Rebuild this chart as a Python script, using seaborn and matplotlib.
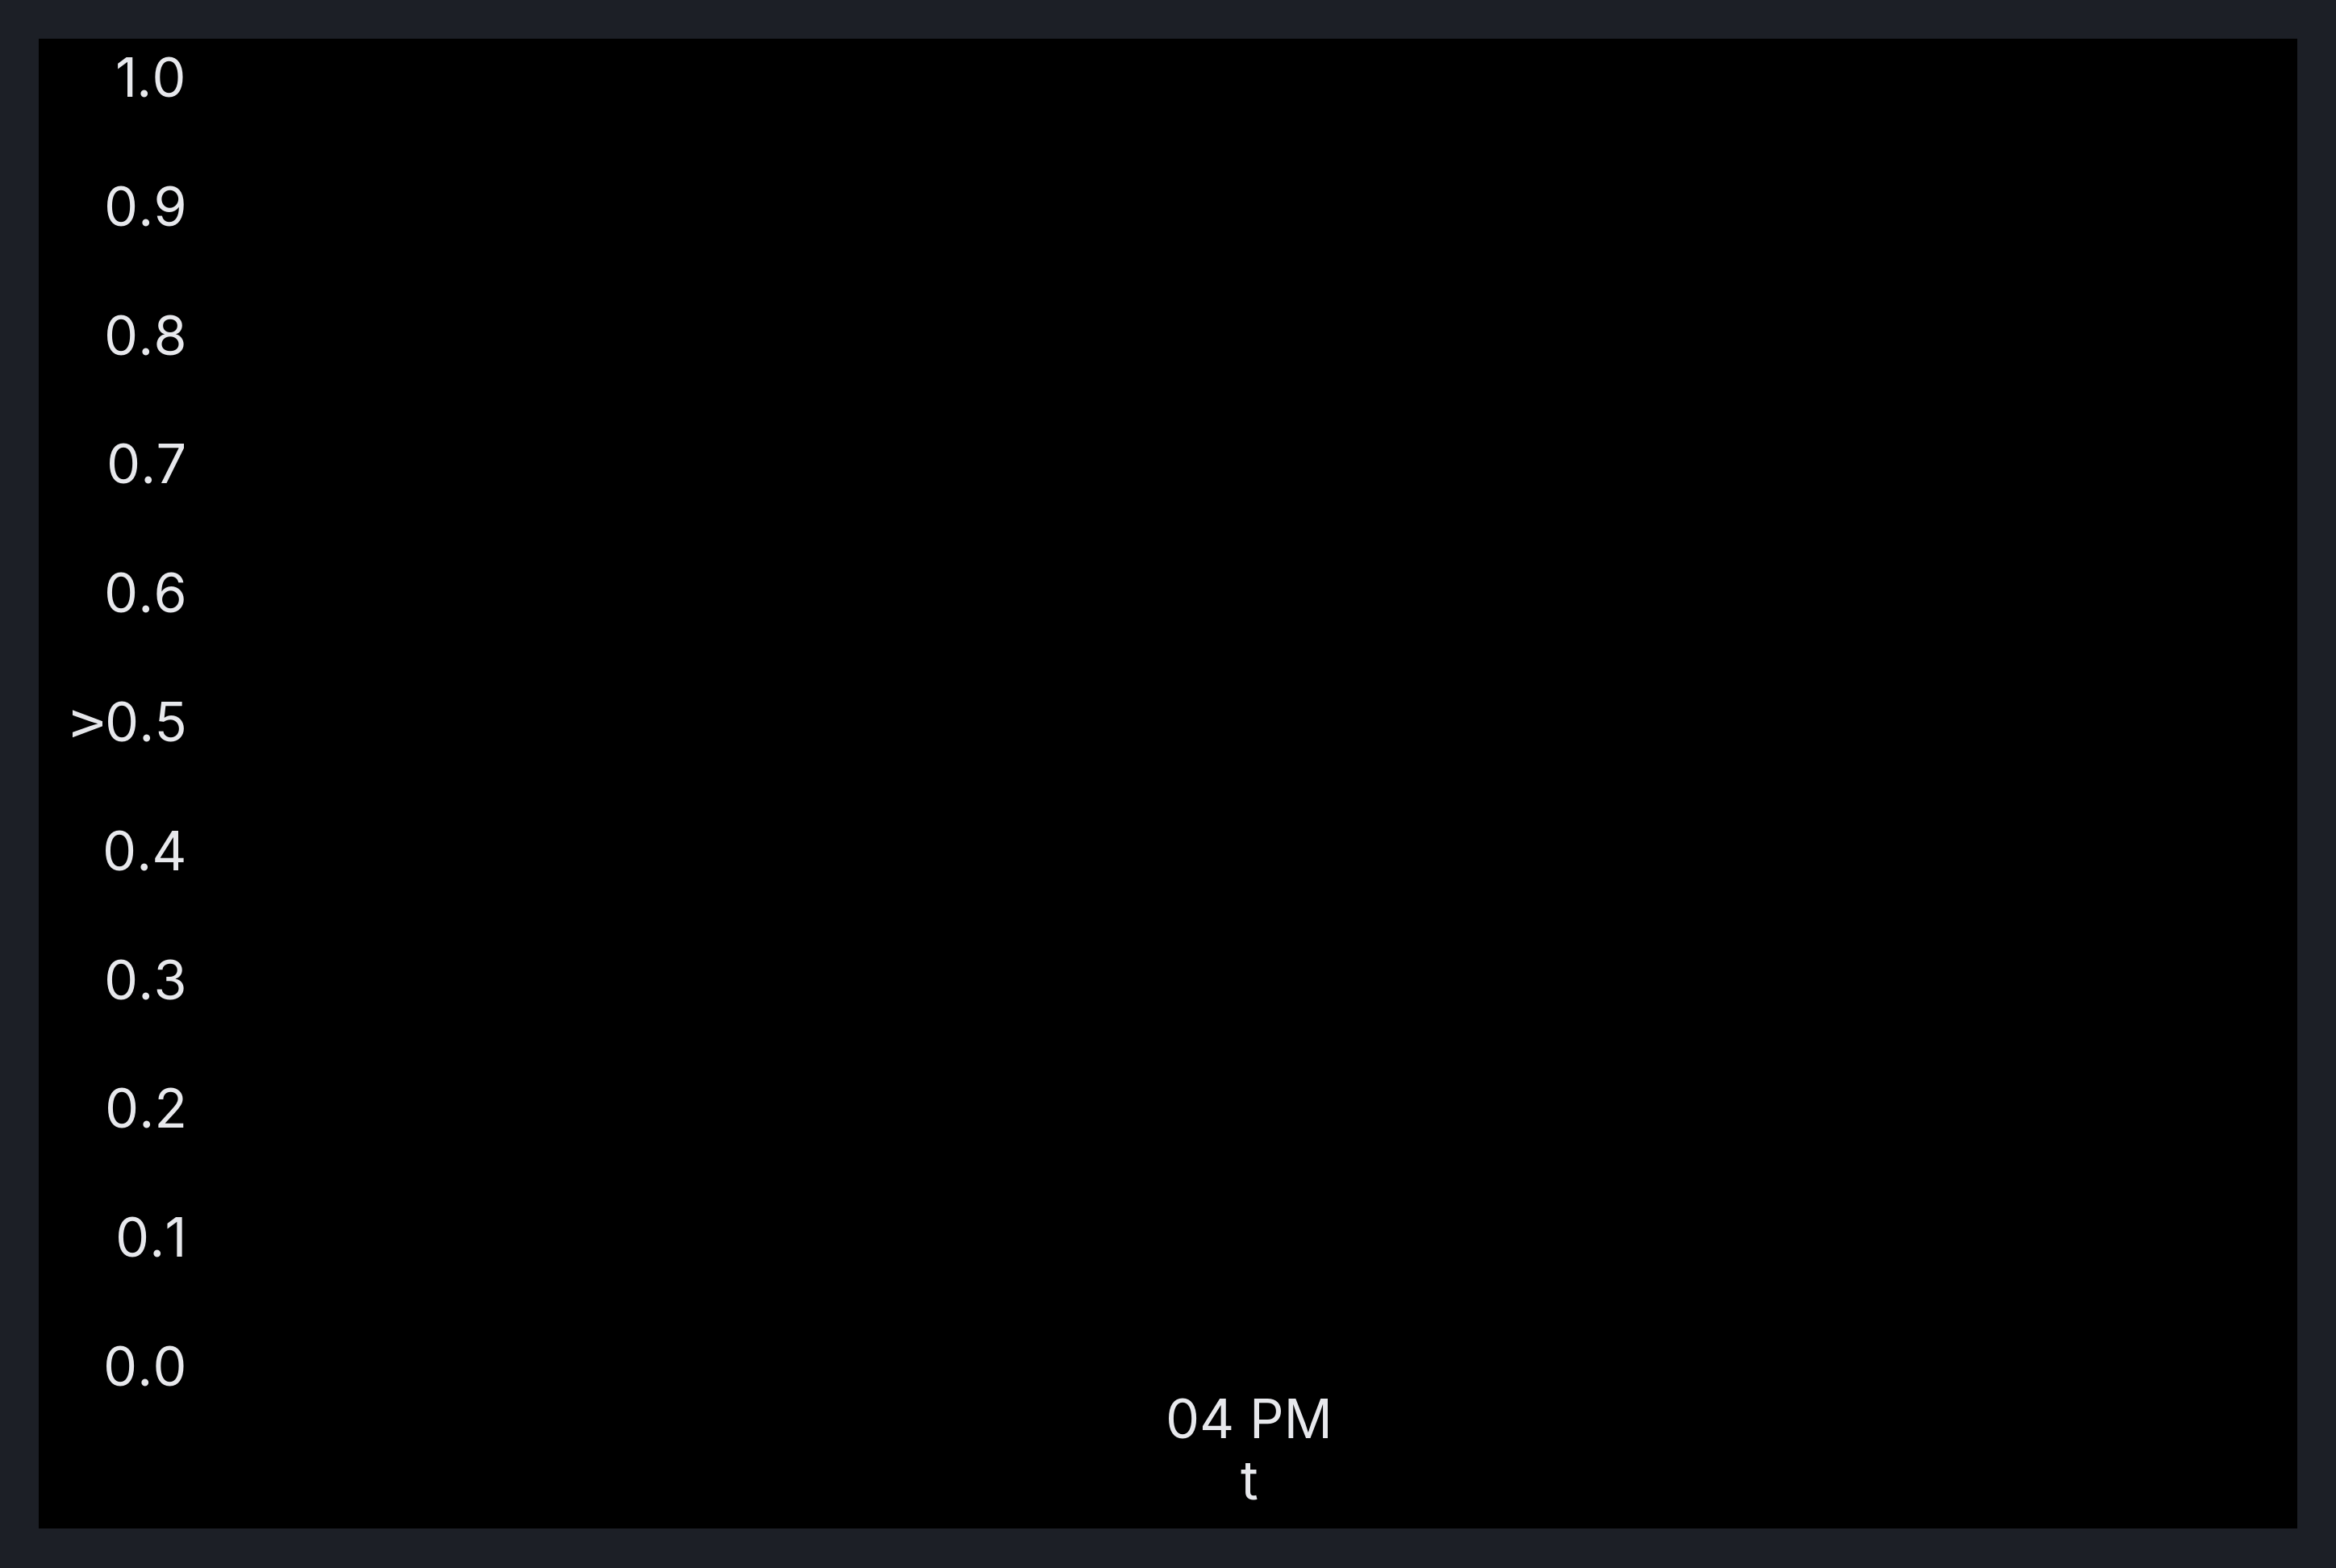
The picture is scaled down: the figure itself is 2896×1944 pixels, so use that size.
import matplotlib
matplotlib.use("Agg")
import matplotlib.pyplot as plt
import matplotlib.dates as mdates
import seaborn as sns
import pandas as pd
import numpy as np

# Data (the reference chart shows no marks)
t_values = pd.to_datetime([])
v_values = []
x_start = pd.Timestamp("2024-01-01 15:30")
x_end = pd.Timestamp("2024-01-01 16:30")
y_ticks = [0.0, 0.1, 0.2, 0.3, 0.4, 0.5, 0.6, 0.7, 0.8, 0.9, 1.0]

sns.set_theme(style="dark")
plt.rcParams["font.family"] = ["Inter", "DejaVu Sans"]

W, H = 2896, 1944
fig = plt.figure(figsize=(W / 200, H / 200), dpi=200, facecolor="#1c1f26")

# inner black panel as a background axes
bg = fig.add_axes([48 / W, 1 - 1895 / H, (2848 - 48) / W, (1895 - 48) / H], zorder=-10)
bg.set_facecolor("black")
bg.set_xticks([])
bg.set_yticks([])
for s in bg.spines.values():
    s.set_visible(False)

ax_left = 252 / W
ax_right = 2844 / W
ax_bottom = 1 - 1694 / H
ax_top = 1 - 96 / H
ax = fig.add_axes([ax_left, ax_bottom, ax_right - ax_left, ax_top - ax_bottom], zorder=1)
ax.set_facecolor("none")

df = pd.DataFrame({"t": t_values, "v": pd.Series(v_values, dtype=float)})
sns.lineplot(data=df, x="t", y="v", ax=ax)

ax.set_xlim(x_start, x_end)
ax.set_ylim(0, 1)
ax.set_yticks(y_ticks)
ax.set_yticklabels([f"{y:.1f}" for y in y_ticks])
ax.xaxis.set_major_locator(mdates.HourLocator())
ax.xaxis.set_major_formatter(mdates.DateFormatter("%I %p"))

txt_color = "#e7e8ec"
fs = 24
ax.tick_params(axis="both", colors=txt_color, labelsize=fs, length=0)
ax.tick_params(axis="y", pad=7.3)
ax.tick_params(axis="x", pad=14.5)
ax.set_xlabel("t", color=txt_color, fontsize=fs, labelpad=4.5)
ax.set_ylabel("v", color=txt_color, fontsize=fs)
ax.yaxis.set_label_coords(-0.043, 0.5)
ax.grid(False)
for s in ax.spines.values():
    s.set_visible(False)

fig.savefig("out.png", dpi=200, facecolor=fig.get_facecolor())
